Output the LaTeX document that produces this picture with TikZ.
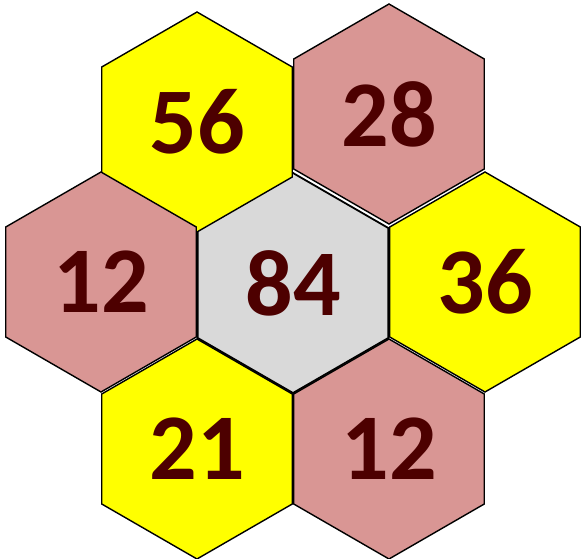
\documentclass[tikz,border=0pt]{standalone}
\usepackage{fontspec}
\setmainfont{Carlito}
\usetikzlibrary{shapes.geometric}
\definecolor{hy}{HTML}{FFFF00}
\definecolor{hp}{HTML}{D99694}
\definecolor{hg}{HTML}{D9D9D9}
\definecolor{ht}{HTML}{4D0000}
\begin{document}
\begin{tikzpicture}[x=1pt,y=-1pt,
  hex/.style={regular polygon, regular polygon sides=6, shape border rotate=30,
    minimum size=220pt, inner sep=0pt, draw=black, line width=1.4pt,
    font=\fontsize{94}{94}\selectfont\bfseries, text=ht},
  hexy/.style={hex, fill=hy},
  hexp/.style={hex, fill=hp},
  hexg/.style={hex, fill=hg, line width=1.8pt}]
\useasboundingbox (0,0) rectangle (582,559);
\node[hexg] (c) at (293,283) {84};
\node[hexy] (a) at (197,122) {56};
\node[hexp] (b) at (389,114) {28};
\node[hexp] (l) at (101,282) {12};
\node[hexy] (r) at (485,282) {36};
\node[hexy] (d) at (197,449) {21};
\node[hexp] (e) at (389,449) {12};
\end{tikzpicture}
\end{document}
